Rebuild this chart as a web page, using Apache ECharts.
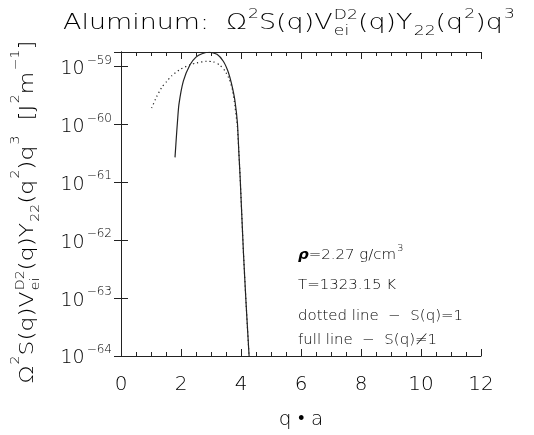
<!DOCTYPE html>
<html>
<head>
<meta charset="utf-8">
<script src="https://cdn.jsdelivr.net/npm/echarts@6/dist/echarts.min.js"></script>
<style>
  html, body { margin: 0; padding: 0; background: #fff; }
  #chart { width: 534px; height: 435px; }
</style>
</head>
<body>
<div id="chart"></div>
<script>
// full line, S(q) != 1   (J^2 m^-1)
var fullQ = [1.80, 1.86, 1.88, 1.93, 2.08, 2.30, 2.50, 2.70, 2.95, 3.20, 3.41, 3.55, 3.63, 3.72, 3.80, 3.88, 3.93, 3.97, 4.08, 4.17, 4.27];
var fullV = [2.69e-61, 7.76e-61, 1.07e-60, 2.19e-60, 5.62e-60, 1.07e-59, 1.45e-59, 1.66e-59, 1.76e-59, 1.62e-59, 1.23e-59, 8.71e-60, 6.46e-60, 4.17e-60, 2.51e-60, 1.07e-60, 3.16e-61, 1.26e-61, 6.31e-63, 7.94e-64, 1.0e-64];
// dotted line, S(q) = 1
var dotQ = [1.02, 1.19, 1.36, 1.52, 1.69, 1.97, 2.30, 2.52, 2.86, 3.08, 3.30, 3.47, 3.61, 3.72, 3.80, 3.88, 3.93, 3.97, 4.08, 4.17, 4.27];
var dotV = [1.91e-60, 3.02e-60, 4.37e-60, 5.50e-60, 6.92e-60, 8.91e-60, 1.07e-59, 1.15e-59, 1.23e-59, 1.20e-59, 1.05e-59, 8.32e-60, 6.03e-60, 3.89e-60, 2.04e-60, 8.9e-61, 3.16e-61, 1.26e-61, 6.31e-63, 7.94e-64, 1.0e-64];
var xTicks = [0, 2, 4, 6, 8, 10, 12];
var yDecades = [-64, -63, -62, -61, -60, -59];

// the log axis chokes on numbers this small, so plot in units of 1e-64
var UNIT_EXP = -64;
var UNIT = 1e-64;
var yTop = 1.778e-59;

var font = 'DejaVu Sans';
var ink = '#222';
var textInk = '#000';

function pairs(xs, ys) {
  return xs.map(function (x, i) { return [x, ys[i] / UNIT]; });
}

function decadeLabel(v) {
  var e = Math.log10(v);
  var n = Math.round(e);
  if (Math.abs(e - n) > 1e-6) return '';
  n += UNIT_EXP;
  if (yDecades.indexOf(n) < 0) return '';
  return '{b|10}{s|' + (n < 0 ? '\u2212' + (-n) : n) + '}';
}

// lay out a formula with super/subscripts as separate text pieces
var measureCtx = document.createElement('canvas').getContext('2d');
function textW(t, size, bold) {
  measureCtx.font = (bold ? 'italic bold ' : '300 ') + size + 'px "' + font + '"';
  return measureCtx.measureText(t).width;
}
function mathText(parts, o) {
  var size = o.size;
  var small = Math.round(size * 0.62);
  var items = [];
  var cx = 0;
  parts.forEach(function (p) {
    var kind = p[0];
    if (kind === 'n' || kind === 'b') {
      items.push({ t: p[1], s: size, x: cx, y: 0, bold: kind === 'b' });
      cx += textW(p[1], size, kind === 'b');
    } else if (kind === 'sup') {
      items.push({ t: p[1], s: small, x: cx + 1, y: -size * o.sup });
      cx += textW(p[1], small) + 1;
    } else if (kind === 'sub') {
      items.push({ t: p[1], s: small, x: cx + 1, y: size * o.sub });
      cx += textW(p[1], small) + 1;
    } else if (kind === 'subsup') {
      items.push({ t: p[1], s: small, x: cx + 1, y: size * o.ssub });
      items.push({ t: p[2], s: small, x: cx + 1, y: -size * o.ssup });
      cx += Math.max(textW(p[1], small), textW(p[2], small)) + 1;
    }
  });
  var off = o.center ? -cx / 2 : 0;
  var sx = o.target ? o.target / cx : (o.scale || 1);
  return {
    type: 'group',
    x: o.x, y: o.y,
    rotation: o.rotation || 0,
    scaleX: sx,
    children: items.map(function (it) {
      return {
        type: 'text',
        x: it.x + off, y: it.y,
        style: {
          text: it.t, fontFamily: font, fontSize: it.s, fill: textInk,
          fontWeight: it.bold ? 'bold' : 300,
          fontStyle: it.bold ? 'italic' : 'normal',
          verticalAlign: 'middle', align: 'left'
        }
      };
    })
  };
}

var formula = [
  ['n', '\u03a9'], ['sup', '2'], ['n', 'S(q)V'], ['subsup', 'ei', 'D2'],
  ['n', '(q)Y'], ['sub', '22'], ['n', '(q'], ['sup', '2'], ['n', ')q'], ['sup', '3']
];
var titleParts = [['n', 'Aluminum:  ']].concat(formula);
var yNameParts = formula.concat([['n', '  [J'], ['sup', '2'], ['n', 'm'], ['sup', '\u22121'], ['n', ']']]);
var noteLines = [
  [['b', '\u03c1'], ['n', '=2.27 g/cm'], ['sup', '3']],
  [['n', 'T=1323.15 K']],
  [['n', 'dotted line  \u2212  S(q)=1']],
  [['n', 'full line  \u2212  S(q)\u22601']]
];
var noteY = [255, 285, 316, 340];

var chart = echarts.init(document.getElementById('chart'));

var tickStyle = { show: true, inside: true, length: 7, lineStyle: { color: ink, width: 1 } };
var minorStyle = { show: true, splitNumber: 4, length: 4, lineStyle: { color: ink, width: 1 } };
var lineStyleAxis = { show: true, lineStyle: { color: ink, width: 1 } };

var noteScale = 165 / textW('dotted line  \u2212  S(q)=1', 14);
var graphics = [
  mathText(titleParts, { size: 22, x: 63, y: 23, target: 452, sup: 0.4, sub: 0.36, ssup: 0.36, ssub: 0.36 }),
  mathText(yNameParts, { size: 20, x: 28, y: 212, rotation: Math.PI / 2, center: true, target: 343, sup: 0.62, sub: 0.4, ssup: 0.38, ssub: 0.4 })
];
noteLines.forEach(function (parts, i) {
  graphics.push(mathText(parts, { size: 14, x: 298, y: noteY[i], scale: noteScale, sup: 0.42, sub: 0.35 }));
});

var option = {
  animation: false,
  backgroundColor: '#fff',
  textStyle: { fontFamily: font, color: textInk },
  grid: { left: 121, right: 53, top: 52, bottom: 69 },
  xAxis: [
    {
      type: 'value',
      min: 0, max: 12, interval: 2,
      name: 'q \u2022 a',
      nameLocation: 'middle',
      nameGap: 54,
      nameTextStyle: { fontFamily: font, fontSize: 20, fontWeight: 300, color: textInk },
      axisLine: lineStyleAxis,
      splitLine: { show: false },
      axisTick: tickStyle,
      minorTick: minorStyle,
      axisLabel: {
        margin: 19, fontFamily: font, fontSize: 20, fontWeight: 300, color: textInk,
        formatter: function (v) { return xTicks.indexOf(v) >= 0 ? String(v) : ''; }
      }
    },
    {
      type: 'value', position: 'top',
      min: 0, max: 12, interval: 2,
      axisLine: lineStyleAxis,
      splitLine: { show: false },
      axisTick: tickStyle,
      minorTick: minorStyle,
      axisLabel: { show: false }
    }
  ],
  yAxis: [
    {
      type: 'log', logBase: 10,
      min: 1, max: yTop / UNIT,
      axisLine: lineStyleAxis,
      splitLine: { show: false },
      axisTick: tickStyle,
      axisLabel: {
        margin: 9,
        formatter: decadeLabel,
        rich: {
          b: { fontFamily: font, fontSize: 19, fontWeight: 300, color: textInk, lineHeight: 24, verticalAlign: 'bottom' },
          s: { fontFamily: font, fontSize: 12, fontWeight: 300, color: textInk, lineHeight: 24, verticalAlign: 'top', padding: [0, 0, 0, 2] }
        }
      }
    },
    {
      type: 'log', logBase: 10, position: 'right',
      min: 1, max: yTop / UNIT,
      axisLine: lineStyleAxis,
      splitLine: { show: false },
      axisTick: tickStyle,
      axisLabel: { show: false }
    }
  ],
  series: [
    {
      name: 'S(q)=1',
      type: 'line',
      data: pairs(dotQ, dotV),
      showSymbol: false,
      smooth: 0.2,
      clip: true,
      lineStyle: { color: ink, width: 1.2, type: [1.2, 3] }
    },
    {
      name: 'S(q)\u22601',
      type: 'line',
      data: pairs(fullQ, fullV),
      showSymbol: false,
      smooth: 0.2,
      clip: true,
      lineStyle: { color: ink, width: 1.2 }
    }
  ],
  graphic: graphics
};

chart.setOption(option);
</script>
</body>
</html>
